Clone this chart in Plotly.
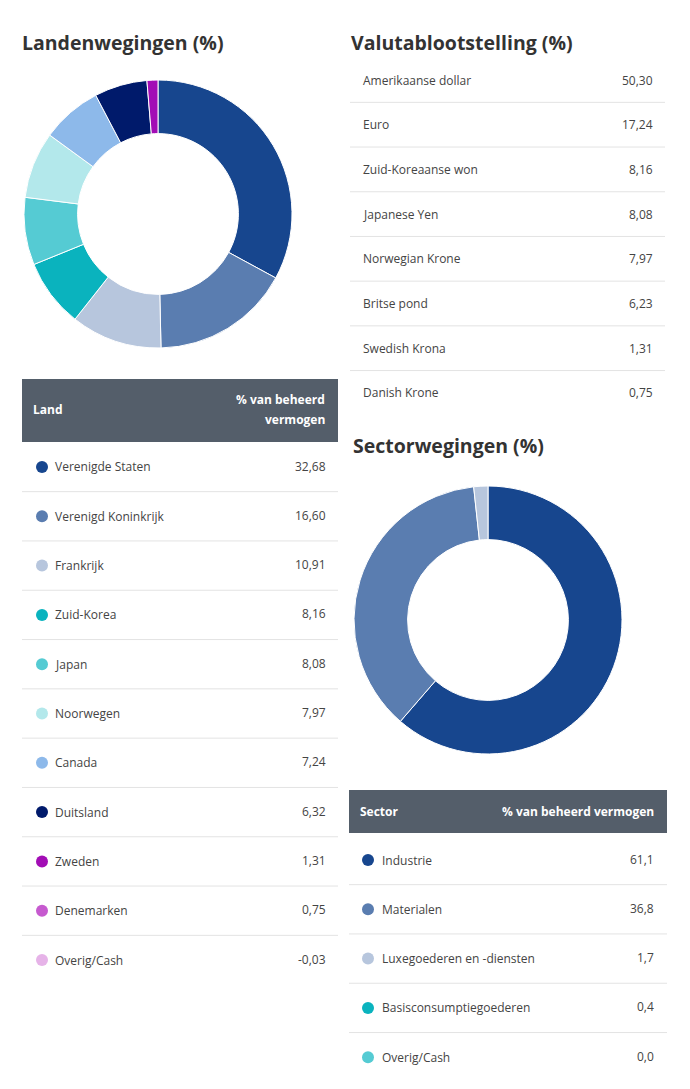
import plotly.graph_objects as go

W, H = 690, 1089
OFF = 8  # page body margin in the browser

# ---------------- data ----------------
land_labels = ["Verenigde Staten", "Verenigd Koninkrijk", "Frankrijk", "Zuid-Korea", "Japan",
               "Noorwegen", "Canada", "Duitsland", "Zweden", "Denemarken", "Overig/Cash"]
land_values = [32.68, 16.60, 10.91, 8.16, 8.08, 7.97, 7.24, 6.32, 1.31, 0.75, -0.03]
land_colors = ["#17468E", "#5A7DB0", "#B7C6DD", "#0AB3BE", "#55CBD3", "#B3E8EB",
               "#8DB9EA", "#001A6B", "#A20DB5", "#C65ACF", "#E6B3E8"]

valuta_labels = ["Amerikaanse dollar", "Euro", "Zuid-Koreaanse won", "Japanese Yen",
                 "Norwegian Krone", "Britse pond", "Swedish Krona", "Danish Krone"]
valuta_values = [50.30, 17.24, 8.16, 8.08, 7.97, 6.23, 1.31, 0.75]

sector_labels = ["Industrie", "Materialen", "Luxegoederen en -diensten",
                 "Basisconsumptiegoederen", "Overig/Cash"]
sector_values = [61.1, 36.8, 1.7, 0.4, 0.0]
sector_colors = ["#17468E", "#5A7DB0", "#B7C6DD", "#0AB3BE", "#55CBD3"]

PIE_MIN = 1.0  # slices below this share are not drawn in the donut


def fmt(v, d):
    return f"{v:.{d}f}".replace(".", ",")


def px(x):
    return (x - OFF) / W


def py(y):
    return 1 - (y - OFF) / H


FONT = "Open Sans"
TXT = "#444444"
HEAD = "#545E6A"
LINE = "#E3E3E3"

fig = go.Figure()


def donut(labels, values, colors, cx, cy, r):
    sel = [(l, v, c) for l, v, c in zip(labels, values, colors) if v >= PIE_MIN]
    fig.add_trace(go.Pie(
        labels=[s[0] for s in sel], values=[s[1] for s in sel],
        marker=dict(colors=[s[2] for s in sel], line=dict(color="white", width=1)),
        hole=0.6, sort=False, direction="clockwise", rotation=0,
        textinfo="none", hoverinfo="label+value", showlegend=False,
        domain=dict(x=[px(cx - r), px(cx + r)], y=[py(cy + r), py(cy - r)]),
    ))


donut(land_labels, land_values, land_colors, 158, 214, 134)
donut(sector_labels, sector_values, sector_colors, 488, 620, 134)

ann = []
shapes = []
PAD = 2  # annotation inner padding compensation


def text(x, y, s, size=12, color=TXT, anchor="left", bold=False):
    xx = x - PAD if anchor == "left" else x + PAD
    ann.append(dict(x=px(xx), y=py(y), xref="paper", yref="paper", text=(f"<b>{s}</b>" if bold else s),
                    showarrow=False, xanchor=anchor, yanchor="middle",
                    font=dict(family=FONT, size=size, color=color)))


def hline(x0, x1, y):
    shapes.append(dict(type="line", xref="paper", yref="paper", x0=px(x0), x1=px(x1),
                       y0=py(y), y1=py(y), line=dict(color=LINE, width=1)))


def rect(x0, x1, y0, y1, color):
    shapes.append(dict(type="rect", xref="paper", yref="paper", x0=px(x0), x1=px(x1),
                       y0=py(y1), y1=py(y0), fillcolor=color, line=dict(width=0)))


def dot(x, y, color, r=6):
    shapes.append(dict(type="circle", xref="paper", yref="paper", x0=px(x - r), x1=px(x + r),
                       y0=py(y + r), y1=py(y - r), fillcolor=color, line=dict(width=0)))


# titles
TS = 19.5
text(22, 42, "Landenwegingen (%)", size=TS, color="#333333", bold=True)
text(351, 42, "Valutablootstelling (%)", size=TS, color="#333333", bold=True)
text(353, 445, "Sectorwegingen (%)", size=TS, color="#333333", bold=True)

# Land table
rect(22, 338, 379, 442, HEAD)
text(33, 410, "Land", color="white", bold=True)
text(325, 400, "% van beheerd", color="white", bold=True, anchor="right")
text(325, 420, "vermogen", color="white", bold=True, anchor="right")
row0, step = 467, 49.3
for i, (l, v, c) in enumerate(zip(land_labels, land_values, land_colors)):
    y = row0 + i * step
    dot(42, y, c)
    text(55, y, l)
    text(326, y - 1, fmt(v, 2), anchor="right")
    if i < len(land_labels) - 1:
        hline(22, 338, y + step / 2)

# Valuta table
vrow0, vstep = 80, 44.7
for i, (l, v) in enumerate(zip(valuta_labels, valuta_values)):
    y = vrow0 + i * vstep
    text(363, y, l)
    text(653, y, fmt(v, 2), anchor="right")
    if i < len(valuta_labels) - 1:
        hline(350, 665, y + vstep / 2)

# Sector table
rect(349, 667, 790, 833, HEAD)
text(360, 811, "Sector", color="white", bold=True)
text(654, 811, "% van beheerd vermogen", color="white", bold=True, anchor="right")
srow0, sstep = 860, 49.3
for i, (l, v, c) in enumerate(zip(sector_labels, sector_values, sector_colors)):
    y = srow0 + i * sstep
    dot(368, y, c)
    text(382, y, l)
    text(654, y - 1, fmt(v, 1), anchor="right")
    if i < len(sector_labels) - 1:
        hline(349, 667, y + sstep / 2)

fig.update_layout(width=W, height=H, margin=dict(l=0, r=0, t=0, b=0),
                  paper_bgcolor="white", plot_bgcolor="white",
                  annotations=ann, shapes=shapes,
                  xaxis=dict(visible=False), yaxis=dict(visible=False))
fig.write_html("out.html")
